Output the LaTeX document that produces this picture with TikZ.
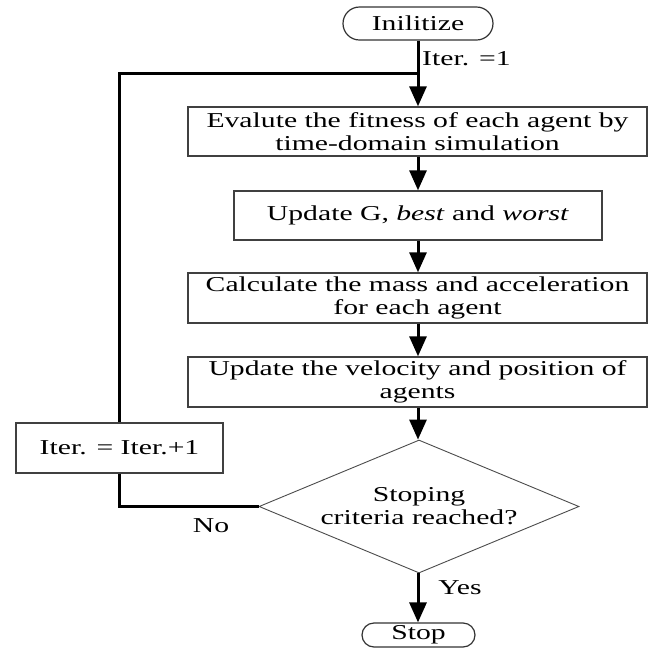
\documentclass[tikz,border=0pt]{standalone}
\usepackage{fontspec}
\setmainfont{Liberation Serif}[FakeStretch=1.4]
\usetikzlibrary{shapes.geometric,shapes.misc,arrows.meta}
\begin{document}
\begin{tikzpicture}[x=1pt,y=-1pt,
  every node/.style={font=\fontsize{21.2}{23}\selectfont, inner sep=0pt, align=center},
  procbox/.style={draw=black!75, line width=1.4pt, rectangle, fill=white},
  termbox/.style={draw=black!80, line width=1.2pt, rounded rectangle, fill=white},
  decbox/.style={draw=black!70, line width=0.9pt, diamond, aspect=2.4, fill=white},
  flow/.style={line width=3pt, -{Triangle[length=20pt,width=17pt]}},
  plain/.style={line width=3pt}]
\useasboundingbox[fill=white] (0,0) rectangle (654,657);
\node[termbox, minimum width=150pt, minimum height=33pt] (init) at (418,23.5) {Inilitize};
\node[procbox, minimum width=459pt, minimum height=49pt] (b1) at (417.5,131.5) {Evalute the fitness of each agent by\\time-domain simulation};
\node[procbox, minimum width=368pt, minimum height=49pt] (b2) at (418,215.5) {Update G, \textit{best} and \textit{worst}};
\node[procbox, minimum width=459pt, minimum height=50pt] (b3) at (417.5,298) {Calculate the mass and acceleration\\for each agent};
\node[procbox, minimum width=459pt, minimum height=50pt] (b4) at (417.5,382) {Update the velocity and position of\\agents};
\node[decbox, minimum width=320pt, minimum height=133pt] (dec) at (419,506.5) {Stoping\\criteria reached?};
\node[procbox, minimum width=207pt, minimum height=50pt] (iter) at (119.5,448) {Iter. = Iter.+1};
\node[termbox, minimum width=113pt, minimum height=24pt] (stop) at (418.5,635) {Stop};
\coordinate (join) at (418,73);
\draw[flow] (init.south -| join) -- (b1.north -| join);
\draw[flow] (b1.south -| join) -- (b2.north -| join);
\draw[flow] (b2.south -| join) -- (b3.north -| join);
\draw[flow] (b3.south -| join) -- (b4.north -| join);
\draw[flow] (b4.south -| join) -- (dec.north -| join);
\draw[flow] (dec.south -| join) -- (stop.north -| join);
\draw[plain] (dec.west) -- (dec.west -| iter.south) -- (iter.south);
\draw[plain] (iter.north) -- (iter.north |- join) -- (join);
\node[anchor=base west] (lbl1) at (422,65) {Iter. =1};
\node[anchor=base] (lblno) at (211,532) {No};
\node[anchor=base] (lblyes) at (460,594) {Yes};
\end{tikzpicture}
\end{document}
